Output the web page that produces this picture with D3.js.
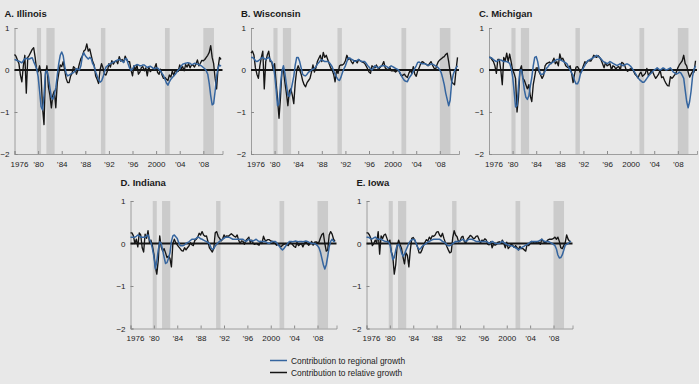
<!DOCTYPE html>
<html lang="en">
    <head>
        <meta charset="UTF-8" />
        <title>Contributions to growth by state</title>
        <script src="https://cdn.jsdelivr.net/npm/d3@7"></script>
        <style>
            body { margin: 0; padding: 0; background-color: #e8e8e8; }
            text { font-family: "Liberation Sans", Arial, sans-serif; }
        </style>
    </head>
    <body>
        <script>
            // quarterly values, 1976:Q1 through 2011:Q1
            const startYear = 1976;
            const nQuarters = 141;
            const quarters = d3.range(nQuarters).map(i => startYear + i / 4);

            const tickYears = [1976, 1980, 1984, 1988, 1992, 1996, 2000, 2004, 2008];
            const tickLabels = ['1976', '\u201980', '\u201984', '\u201988', '\u201992', '\u201996', '2000', '\u201904', '\u201908'];
            const yTicks = [1, 0, -1, -2];

            // recession shading (start, end)
            const recessions = [[1979.8, 1980.5], [1981.4, 1982.8], [1990.65, 1991.4], [2001.5, 2002.3], [2008.0, 2009.8]];

            const titles = ['A. Illinois', 'B. Wisconsin', 'C. Michigan', 'D. Indiana', 'E. Iowa'];

            const ilRelative = [
                0.37,0.33,0.24,0.15,-0.12,-0.28,0.1,0.35,-0.55,0.3,
                0.35,0.42,0.49,0.53,0.3,0.0,-0.04,0.1,-0.1,-0.9,
                -1.3,-0.1,0.1,-0.4,-0.6,-0.9,-0.6,-0.5,-0.9,-0.3,
                -0.08,0.12,0.08,0.2,0.0,-0.2,-0.3,-0.3,-0.15,-0.08,
                0.08,0.04,-0.1,0.0,0.15,0.27,0.33,0.45,0.48,0.62,
                0.45,0.5,0.35,0.2,0.12,-0.14,-0.22,-0.32,0.0,0.15,
                0.05,-0.1,-0.12,-0.02,0.15,0.07,0.22,0.14,0.2,0.22,
                0.15,0.32,0.21,0.25,0.18,0.33,0.25,0.2,0.2,0.0,
                -0.14,0.1,0.0,0.12,-0.1,-0.05,0.06,0.08,-0.02,0.05,
                -0.14,0.08,-0.04,0.0,0.0,0.05,0.15,-0.06,-0.1,0.02,
                -0.12,-0.2,-0.18,-0.22,-0.25,-0.12,-0.17,-0.02,-0.14,0.0,
                -0.04,-0.03,0.12,0.03,0.08,-0.02,0.13,0.07,0.15,0.05,
                0.12,0.12,0.07,0.14,0.24,0.1,0.16,0.23,0.22,0.25,
                0.3,0.35,0.42,0.58,0.3,0.15,-0.2,-0.45,0.05,0.3,
                0.25
            ];
            const ilRegional = [
                0.25,0.24,0.22,0.21,0.19,0.17,0.22,0.27,0.28,0.26,
                0.26,0.28,0.29,0.2,0.12,0.03,-0.15,-0.5,-0.87,-0.95,
                -0.6,-0.05,-0.02,-0.16,-0.42,-0.65,-0.7,-0.58,-0.42,-0.13,
                0.15,0.35,0.43,0.34,0.1,-0.08,-0.14,-0.12,-0.1,-0.08,
                -0.06,-0.03,0.03,0.02,0.0,0.1,0.33,0.41,0.34,0.3,
                0.26,0.3,0.27,0.15,0.09,-0.05,-0.14,-0.24,-0.29,-0.26,
                -0.17,-0.05,0.07,0.1,0.13,0.15,0.17,0.19,0.2,0.22,
                0.24,0.25,0.23,0.21,0.18,0.27,0.27,0.15,0.05,-0.01,
                0.02,0.09,0.11,0.13,0.12,0.1,0.1,0.12,0.12,0.09,
                0.06,0.08,0.09,0.07,0.04,0.03,0.05,0.05,0.01,-0.02,
                -0.08,-0.13,-0.22,-0.31,-0.36,-0.28,-0.22,-0.18,-0.14,-0.1,
                -0.05,0.0,0.03,0.09,0.14,0.15,0.16,0.17,0.17,0.16,
                0.13,0.14,0.16,0.15,0.14,0.13,0.11,0.09,0.06,0.03,
                -0.02,-0.1,-0.32,-0.61,-0.83,-0.8,-0.5,-0.15,0.05,0.12,
                0.09
            ];

            const wiRelative = [
                0.4,0.45,0.35,0.05,-0.1,-0.2,0.1,0.3,0.45,-0.45,
                0.2,0.35,0.45,0.2,0.2,0.0,0.15,-0.3,-0.7,-1.15,
                -0.65,0.0,0.0,-0.3,-0.55,-0.85,-0.5,-0.45,-0.6,-0.8,
                -0.3,0.0,0.1,0.0,-0.1,-0.25,-0.35,-0.4,-0.3,-0.25,
                -0.2,-0.05,0.12,-0.05,0.05,0.2,0.28,0.35,0.2,0.42,
                0.3,0.35,0.25,0.15,0.05,0.0,-0.1,-0.28,0.0,-0.08,
                0.1,0.12,0.12,0.15,0.22,0.35,0.25,0.28,0.2,0.15,
                0.22,0.22,0.17,0.25,0.22,0.2,0.18,0.16,0.1,0.03,
                -0.05,-0.08,0.1,0.07,0.05,0.12,0.05,0.04,0.08,0.12,
                0.2,0.05,0.02,0.0,0.07,-0.02,-0.02,-0.02,-0.05,-0.02,
                0.0,-0.08,-0.14,-0.12,-0.1,-0.15,-0.18,-0.08,0.0,-0.08,
                0.08,-0.1,-0.15,-0.02,0.05,0.15,0.2,0.18,0.15,0.13,
                0.1,0.15,0.2,0.12,0.05,0.0,0.12,0.2,0.24,0.27,
                0.3,0.32,0.37,0.4,0.2,-0.05,-0.28,-0.32,-0.35,0.0,
                0.3
            ];
            const wiRegional = [
                0.3,0.3,0.27,0.22,0.2,0.22,0.25,0.28,0.3,0.27,
                0.25,0.28,0.3,0.25,0.2,0.12,-0.1,-0.45,-0.85,-0.8,
                -0.35,-0.02,0.1,-0.08,-0.35,-0.6,-0.63,-0.5,-0.33,-0.15,
                0.12,0.3,0.3,0.2,0.05,-0.1,-0.13,-0.14,-0.1,-0.05,
                -0.03,0.0,0.02,0.04,0.08,0.14,0.18,0.22,0.25,0.22,
                0.2,0.2,0.2,0.18,0.13,0.08,-0.02,-0.1,-0.17,-0.23,
                -0.25,-0.17,-0.06,0.03,0.1,0.2,0.29,0.28,0.26,0.24,
                0.21,0.21,0.23,0.25,0.22,0.2,0.2,0.2,0.16,0.11,
                0.07,0.03,0.0,0.05,0.1,0.08,0.05,0.07,0.09,0.1,
                0.1,0.1,0.08,0.05,0.07,0.1,0.08,0.06,0.04,0.02,
                0.0,-0.06,-0.14,-0.2,-0.25,-0.27,-0.28,-0.2,-0.15,-0.1,
                -0.04,0.04,0.1,0.18,0.19,0.16,0.15,0.15,0.15,0.13,
                0.11,0.12,0.14,0.14,0.12,0.1,0.08,0.05,0.0,-0.07,
                -0.2,-0.35,-0.55,-0.7,-0.85,-0.72,-0.3,-0.12,-0.02,0.05,
                0.1
            ];

            const miRelative = [
                0.3,0.3,0.25,0.2,0.1,-0.08,0.25,0.25,0.0,-0.35,
                0.3,0.22,0.4,0.2,0.38,0.2,0.0,-0.08,-0.2,-1.0,
                -0.65,0.0,0.1,-0.2,-0.25,-0.35,-0.45,-0.35,-0.62,-0.75,
                -0.35,-0.15,0.05,0.05,-0.05,-0.12,-0.2,-0.13,0.1,0.15,
                0.17,0.19,0.15,0.2,0.28,0.15,0.2,0.1,0.38,0.25,
                0.28,0.2,0.1,0.07,0.05,0.1,-0.08,-0.3,-0.1,0.07,
                0.08,0.02,-0.08,0.0,0.1,0.2,0.16,0.22,0.22,0.21,
                0.27,0.35,0.32,0.3,0.34,0.3,0.24,0.15,0.05,0.18,
                0.1,0.12,0.15,0.0,0.1,0.08,0.02,0.07,0.08,0.0,
                0.18,0.16,0.11,0.0,-0.03,0.01,0.03,0.04,-0.03,-0.1,
                -0.14,-0.19,-0.1,-0.05,-0.15,-0.12,-0.08,0.04,-0.13,-0.08,
                -0.02,-0.05,-0.13,-0.2,-0.15,-0.1,0.0,-0.18,-0.16,-0.25,
                -0.32,-0.37,-0.38,-0.16,-0.2,-0.16,-0.11,-0.05,0.05,0.12,
                0.17,0.22,0.35,0.15,0.1,-0.05,-0.17,-0.1,-0.04,-0.05,
                0.22
            ];
            const miRegional = [
                0.3,0.3,0.28,0.25,0.22,0.2,0.22,0.24,0.24,0.22,
                0.2,0.2,0.2,0.18,0.16,0.05,-0.15,-0.5,-0.88,-0.85,
                -0.38,0.0,0.0,-0.22,-0.48,-0.65,-0.7,-0.62,-0.38,-0.18,
                0.1,0.3,0.32,0.2,0.0,-0.1,-0.1,-0.09,-0.03,0.04,
                0.08,0.13,0.16,0.18,0.2,0.23,0.25,0.25,0.25,0.23,
                0.21,0.19,0.17,0.14,0.06,0.0,-0.07,-0.13,-0.25,-0.33,
                -0.33,-0.25,-0.09,-0.02,0.05,0.11,0.18,0.22,0.24,0.26,
                0.28,0.3,0.33,0.35,0.32,0.3,0.26,0.22,0.19,0.17,
                0.15,0.17,0.2,0.18,0.16,0.14,0.12,0.11,0.13,0.15,
                0.12,0.1,0.12,0.14,0.14,0.12,0.09,0.04,-0.01,-0.07,
                -0.13,-0.18,-0.23,-0.26,-0.29,-0.29,-0.25,-0.2,-0.15,-0.11,
                -0.07,-0.03,0.0,0.02,0.05,0.02,0.0,0.02,0.05,0.03,
                0.0,0.01,0.03,0.05,0.0,-0.05,-0.07,-0.1,-0.08,-0.05,
                -0.07,-0.13,-0.2,-0.48,-0.75,-0.9,-0.75,-0.5,-0.15,0.02,
                0.1
            ];

            const inRelative = [
                0.25,0.25,0.18,0.0,0.1,-0.08,0.25,0.2,-0.1,-0.2,
                0.22,0.12,0.3,0.02,0.08,-0.05,-0.25,-0.55,-0.72,-0.4,
                0.18,-0.08,-0.18,-0.12,-0.22,-0.33,-0.3,-0.35,-0.55,0.0,
                0.1,0.02,-0.03,-0.08,-0.12,-0.17,-0.18,-0.1,-0.15,-0.1,
                -0.06,0.02,-0.03,-0.05,0.07,0.1,0.15,0.24,0.2,0.28,
                0.2,0.17,0.18,0.05,-0.1,-0.15,-0.2,-0.12,0.25,0.28,
                0.17,0.12,0.06,0.1,0.2,0.15,0.18,0.17,0.2,0.23,
                0.2,0.17,0.15,0.2,0.08,0.0,0.06,0.05,-0.02,0.07,
                0.11,0.15,0.02,0.08,0.0,-0.02,0.0,-0.02,-0.04,0.05,
                0.0,0.17,0.08,0.07,0.09,0.09,0.06,0.05,0.02,0.0,
                -0.04,-0.02,-0.05,-0.08,-0.04,-0.02,0.0,-0.02,-0.05,0.03,
                0.01,-0.03,-0.07,-0.09,0.03,-0.05,-0.02,0.0,-0.08,0.0,
                0.04,0.0,-0.04,0.0,0.05,-0.04,0.03,0.04,0.02,0.03,
                0.13,0.21,0.24,0.0,-0.18,-0.15,0.2,0.28,0.22,0.1,
                0.05
            ];
            const inRegional = [
                0.15,0.15,0.15,0.15,0.17,0.2,0.18,0.15,0.15,0.15,
                0.15,0.18,0.2,0.1,0.02,-0.12,-0.3,-0.6,-0.42,-0.15,
                0.04,0.0,-0.15,-0.32,-0.47,-0.45,-0.35,-0.22,0.05,0.18,
                0.2,0.16,0.12,0.02,-0.05,-0.05,-0.05,-0.03,0.0,0.02,
                0.04,0.07,0.1,0.1,0.1,0.12,0.15,0.14,0.11,0.1,
                0.08,0.06,0.05,0.02,0.0,-0.09,-0.14,-0.12,-0.06,-0.02,
                0.02,0.05,0.08,0.1,0.12,0.15,0.15,0.15,0.14,0.12,
                0.1,0.1,0.1,0.1,0.1,0.1,0.1,0.1,0.07,0.05,
                0.07,0.1,0.08,0.06,0.06,0.08,0.1,0.07,0.05,0.05,
                0.05,0.05,0.05,0.03,0.01,0.0,0.03,0.05,0.05,0.05,
                0.02,-0.03,-0.07,-0.12,-0.15,-0.12,-0.07,-0.03,0.02,0.05,
                0.05,0.04,0.05,0.06,0.05,0.04,0.05,0.05,0.04,0.05,
                0.06,0.05,0.03,0.02,0.0,0.0,0.0,-0.02,-0.05,-0.1,
                -0.2,-0.35,-0.5,-0.6,-0.5,-0.3,-0.08,0.05,0.1,0.05,
                0.05
            ];

            const iaRelative = [
                0.25,0.25,0.2,0.12,-0.05,0.0,0.08,0.02,0.28,-0.25,
                0.18,0.12,0.2,0.22,0.12,0.02,0.08,-0.2,-0.3,-0.72,
                -0.5,-0.05,0.08,-0.03,-0.12,-0.32,-0.48,-0.22,-0.28,-0.55,
                -0.15,0.12,0.14,0.08,0.0,-0.09,-0.22,-0.22,-0.15,-0.05,
                0.03,0.09,0.06,0.15,0.1,0.18,0.17,0.2,0.27,0.28,
                0.2,0.16,0.24,0.12,0.02,-0.07,-0.15,-0.22,-0.2,0.13,
                0.3,0.2,0.16,0.04,0.06,0.15,0.17,0.04,0.01,0.1,
                0.14,0.19,0.17,0.12,0.12,0.17,0.18,0.1,0.01,0.08,
                0.06,0.11,0.08,-0.02,-0.03,0.04,-0.1,-0.01,-0.04,-0.02,
                0.03,0.04,0.01,0.08,0.0,-0.1,0.03,-0.12,-0.08,-0.02,
                -0.04,-0.09,-0.05,-0.1,-0.15,-0.07,-0.12,-0.12,-0.15,-0.18,
                -0.01,-0.05,0.0,0.05,0.03,0.01,0.02,0.04,0.03,-0.02,
                0.1,0.05,0.01,0.03,0.08,0.1,0.1,0.1,0.12,0.15,
                0.1,0.15,0.05,-0.1,-0.12,-0.05,0.02,0.2,0.1,0.05,
                0.05
            ];
            const iaRegional = [
                0.15,0.15,0.13,0.11,0.11,0.13,0.15,0.12,0.1,0.1,
                0.1,0.08,0.06,0.05,0.05,0.04,-0.02,-0.2,-0.38,-0.33,
                -0.16,-0.04,-0.02,-0.1,-0.22,-0.3,-0.25,-0.16,-0.08,0.01,
                0.06,0.09,0.1,0.09,0.0,-0.09,-0.14,-0.12,-0.07,-0.04,
                -0.02,0.01,0.03,0.05,0.07,0.09,0.1,0.1,0.1,0.1,
                0.1,0.08,0.05,0.03,0.01,-0.03,-0.05,-0.05,-0.03,0.0,
                0.02,0.05,0.05,0.05,0.06,0.08,0.1,0.07,0.05,0.07,
                0.1,0.1,0.1,0.09,0.07,0.05,0.05,0.05,0.05,0.05,
                0.05,0.05,0.05,0.03,0.0,0.02,0.05,0.03,0.0,0.0,
                0.0,0.0,0.03,0.05,0.02,0.0,-0.02,-0.04,-0.05,-0.05,
                -0.06,-0.08,-0.1,-0.12,-0.15,-0.13,-0.1,-0.08,-0.06,-0.04,
                -0.02,0.0,0.03,0.05,0.05,0.05,0.05,0.05,0.06,0.08,
                0.1,0.07,0.05,0.05,0.05,0.04,0.02,0.0,-0.02,-0.05,
                -0.13,-0.27,-0.34,-0.33,-0.27,-0.16,-0.04,-0.02,0.0,0.03,
                0.05
            ];

            const legendLabels = ['Contribution to regional growth', 'Contribution to relative growth'];

            const regionalSeries = [ilRegional, wiRegional, miRegional, inRegional, iaRegional];
            const relativeSeries = [ilRelative, wiRelative, miRelative, inRelative, iaRelative];

            const blue = '#35659f';
            const black = '#151515';

            // panel placement: left/top of plot area, width, height
            const layout = [
                { x: 14.5, y: 28, w: 208, h: 126, ty: 16.5 },
                { x: 251, y: 28, w: 208, h: 126, ty: 16.5 },
                { x: 489, y: 28, w: 208, h: 126, ty: 16.5 },
                { x: 130.5, y: 201, w: 206, h: 127.5, ty: 186 },
                { x: 366.5, y: 201, w: 206, h: 127.5, ty: 186 }
            ];

            const svg = d3
                .select('body')
                .append('svg')
                .attr('width', 699)
                .attr('height', 384)
                .style('background-color', '#e8e8e8');

            titles.forEach((title, i) => {
                const L = layout[i];
                const g = svg.append('g').attr('transform', `translate(${L.x},${L.y})`);

                const x = d3.scaleLinear().domain([1976, 2011.25]).range([0, L.w]);
                const y = d3.scaleLinear().domain([-2, 1]).range([L.h, 0]);

                // recession bars
                g.selectAll('rect.rec')
                    .data(recessions)
                    .join('rect')
                    .attr('class', 'rec')
                    .attr('x', d => x(d[0]))
                    .attr('width', d => x(d[1]) - x(d[0]))
                    .attr('y', 0)
                    .attr('height', L.h)
                    .attr('fill', '#cbcbcb');

                // y axis
                const yAxis = g.append('g')
                    .call(d3.axisLeft(y).tickValues(yTicks).tickFormat(d3.format('d'))
                        .tickSize(-3).tickPadding(5));
                yAxis.select('.domain').attr('stroke', '#8a8a8a').attr('stroke-width', 0.8);
                yAxis.selectAll('.tick line').attr('stroke', '#8a8a8a');
                yAxis.selectAll('text').attr('font-size', 8).attr('fill', '#222');

                // x axis
                const xAxis = g.append('g')
                    .attr('transform', `translate(0,${L.h})`)
                    .call(d3.axisBottom(x).tickValues(tickYears)
                        .tickFormat((d, k) => tickLabels[k]).tickSize(-3).tickPadding(7));
                xAxis.select('.domain').attr('stroke', '#8a8a8a').attr('stroke-width', 0.8);
                xAxis.selectAll('.tick line').attr('stroke', '#8a8a8a');
                xAxis.selectAll('text').attr('font-size', 8).attr('fill', '#222')
                    .attr('dx', (d, k) => (k === 0 ? 4.5 : 0));

                // zero line
                g.append('line')
                    .attr('x1', 0)
                    .attr('x2', L.w)
                    .attr('y1', y(0))
                    .attr('y2', y(0))
                    .attr('stroke', black)
                    .attr('stroke-width', 2);

                const line = d3.line()
                    .x((d, k) => x(quarters[k]))
                    .y(d => y(d));

                g.append('path')
                    .attr('d', line(relativeSeries[i]))
                    .attr('fill', 'none')
                    .attr('stroke', black)
                    .attr('stroke-width', 1.35)
                    .attr('stroke-linejoin', 'round');

                g.append('path')
                    .attr('d', line(regionalSeries[i]))
                    .attr('fill', 'none')
                    .attr('stroke', blue)
                    .attr('stroke-width', 1.5)
                    .attr('stroke-linejoin', 'round');

                // panel title
                svg.append('text')
                    .attr('x', L.x - 10)
                    .attr('y', L.ty)
                    .attr('font-size', 9.5)
                    .attr('font-weight', 'bold')
                    .attr('fill', '#1a1a1a')
                    .text(title);
            });

            // legend
            const legend = svg.append('g').attr('transform', 'translate(270,360.5)');
            legendLabels.forEach((label, i) => {
                legend.append('line')
                    .attr('x1', 0)
                    .attr('x2', 17)
                    .attr('y1', i * 12)
                    .attr('y2', i * 12)
                    .attr('stroke', i === 0 ? blue : black)
                    .attr('stroke-width', 1.5);
                legend.append('text')
                    .attr('x', 21)
                    .attr('y', i * 12 + 3)
                    .attr('font-size', 8.4)
                    .attr('fill', '#222')
                    .text(label);
            });
        </script>
    </body>
</html>
